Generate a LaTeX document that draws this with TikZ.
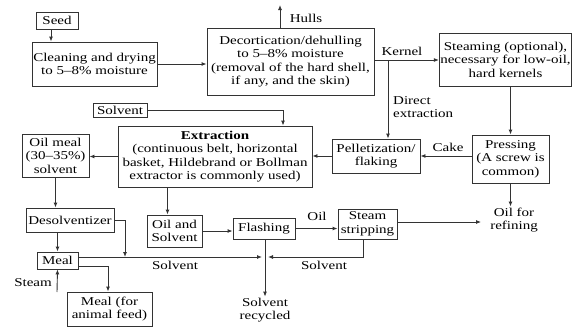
\documentclass[tikz,border=0pt]{standalone}
\usepackage{fontspec}
\setmainfont{Liberation Serif}[FakeStretch=1.25]
\usetikzlibrary{arrows.meta}

\tikzset{
  blk/.style={draw=black!80, line width=0.9pt, align=center, inner sep=1pt},
  lbl/.style={align=center, inner sep=1pt},
  ln/.style={draw=black!80, line width=0.9pt},
  arr/.style={ln, -{Latex[length=5pt,width=4pt]}},
}

\begin{document}
\begin{tikzpicture}[x=1pt, y=-1pt, font=\fontsize{12}{13.5}\selectfont]
  \fill[white] (0,0) rectangle (573,327);
  \node[blk, minimum width=42pt, minimum height=17pt] (seed) at (57,20.5) {Seed};
  \node[blk, minimum width=125pt, minimum height=44pt] (clean) at (94.5,64)
    {Cleaning and drying\\to 5--8\% moisture};
  \node[blk, minimum width=167pt, minimum height=67pt] (decort) at (290.5,61.5)
    {Decortication/dehulling\\to 5--8\% moisture\\(removal of the hard shell,\\if any, and the skin)};
  \node[blk, minimum width=131pt, minimum height=53pt] (steaming) at (505.5,59.5)
    {Steaming (optional),\\necessary for low-oil,\\hard kernels};
  \node[blk, minimum width=77pt, minimum height=48pt] (press) at (510.5,159)
    {Pressing\\(A screw is\\common)};
  \node[blk, minimum width=88pt, minimum height=34pt] (pellet) at (376,156)
    {Pelletization/\\flaking};
  \node[blk, minimum width=194pt, minimum height=61pt] (extract) at (215,156.5)
    {\textbf{Extraction}\\(continuous belt, horizontal\\basket, Hildebrand or Bollman\\extractor is commonly used)};
  \node[blk, minimum width=54pt, minimum height=14pt] (solvbox) at (120,110) {Solvent};
  \node[blk, minimum width=67pt, minimum height=43pt] (oilmeal) at (55.5,155.5)
    {Oil meal\\(30--35\%)\\solvent};
  \node[blk, minimum width=88pt, minimum height=24pt] (desolv) at (70,220) {Desolventizer};
  \node[blk, minimum width=41pt, minimum height=17pt] (meal) at (57.5,260.5) {Meal};
  \node[blk, minimum width=85pt, minimum height=34pt] (feed) at (109.5,309)
    {Meal (for\\animal feed)};
  \node[blk, minimum width=55pt, minimum height=32pt] (oilsolv) at (174.5,231)
    {Oil and\\Solvent};
  \node[blk, minimum width=62pt, minimum height=21pt] (flash) at (264,228.5) {Flashing};
  \node[blk, minimum width=59pt, minimum height=30pt] (strip) at (367.5,224)
    {Steam\\stripping};

  \node[lbl] (hulls) at (306,18) {Hulls};
  \node[lbl] (kernlbl) at (402,51) {Kernel};
  \node[lbl, align=left, anchor=west] (direct) at (392,107) {Direct\\extraction};
  \node[lbl] (cakelbl) at (448,147) {Cake};
  \node[lbl] (oilref) at (514,220) {Oil for\\refining};
  \node[lbl] (solvrec) at (265,310) {Solvent\\recycled};
  \node[lbl] (steamlbl) at (33,283) {Steam};
  \node[lbl] (oillbl) at (317,216) {Oil};
  \node[lbl] (solvl1) at (175,265) {Solvent};
  \node[lbl] (solvl2) at (324,265) {Solvent};

  \coordinate (hullsend) at (280,5);
  \coordinate (kernjoin) at (388,60);
  \coordinate (mix) at (125,257);
  \coordinate (junc) at (265,257);
  \coordinate (steamin) at (57,292);

  \draw[arr] ([xshift=-6pt]seed.south) -- ([xshift=-6pt]seed.south |- clean.north);
  \draw[arr] (clean.east) -- (clean.east -| decort.west);
  \draw[arr] (decort.north -| hullsend) -- (hullsend);
  \draw[arr] (decort.east |- kernjoin) -- (steaming.west |- kernjoin);
  \draw[arr] (kernjoin) -- (kernjoin |- pellet.north);
  \draw[arr] (press.north |- steaming.south) -- (press.north);
  \draw[arr] (press.west |- pellet.east) -- (pellet.east);
  \draw[arr] (pellet.west) -- (pellet.west -| extract.east);
  \draw[arr] (solvbox.east) -| ([xshift=68pt]extract.north);
  \draw[arr] (extract.west) -- (extract.west -| oilmeal.east);
  \draw[arr] (oilmeal.south) -- (oilmeal.south |- desolv.north);
  \draw[arr] (meal.north |- desolv.south) -- (meal.north);
  \draw[arr] (desolv.east) -| (mix);
  \draw[arr, shorten >=3pt] (meal.east |- junc) -- (junc);
  \draw[arr, shorten >=3pt] ([xshift=-4pt]strip.south) |- (junc);
  \draw[arr] (flash.south -| junc) -- (solvrec.north);
  \draw[arr] ([yshift=-6pt]meal.east) -| ([xshift=-1.5pt]feed.north);
  \draw[arr] (steamin) -- (meal.south);
  \draw[arr] ([xshift=-7pt]oilsolv.north |- extract.south) -- ([xshift=-7pt]oilsolv.north);
  \draw[arr] (oilsolv.east) -- (oilsolv.east -| flash.west);
  \draw[arr] (flash.east) -- (flash.east -| strip.west);
  \draw[arr, shorten >=8pt] ([yshift=2pt]strip.east) -- ([yshift=2pt]strip.east -| oilref.west);
  \draw[arr] (press.south) -- (press.south |- oilref.north);
\end{tikzpicture}
\end{document}
